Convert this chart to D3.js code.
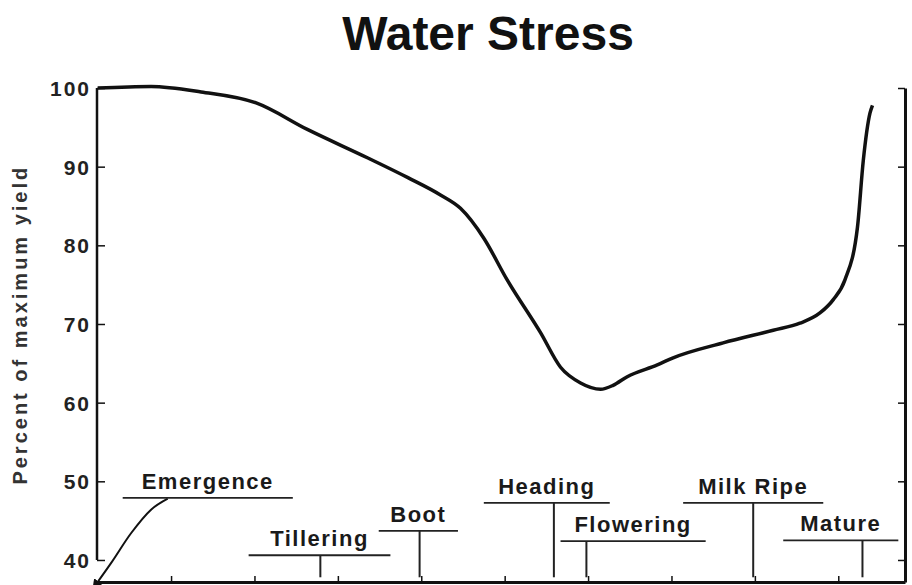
<!DOCTYPE html>
<html>
<head>
<meta charset="utf-8">
<script src="https://cdn.jsdelivr.net/npm/d3@7"></script>
<style>
    body { margin: 0; background: #fff; }
    text { font-family: "Liberation Sans", Arial, sans-serif; }
</style>
</head>
<body>
<div id="graph-container"></div>
<script>
const WIDTH = 912,
    HEIGHT = 585;

// yield curve
const curveX = [0.12, 0.76, 1.36, 2.02, 2.64, 3.36, 3.84, 4.23, 4.47, 4.75, 5.03, 5.43, 5.67, 5.91, 6.15, 6.30, 6.47, 6.83, 7.02, 7.62, 8.22, 8.54, 8.78, 8.94, 9.08, 9.23, 9.30, 9.38, 9.41];
const curveY = [100, 100.2, 99.5, 98.1, 94.7, 91.1, 88.6, 86.4, 84.7, 80.9, 75.6, 68.9, 64.5, 62.5, 61.7, 62.2, 63.3, 64.8, 65.7, 67.6, 69.2, 70.1, 71.4, 73.1, 75.6, 82.3, 90.8, 96.8, 97.8];

// emergence arrow
const emergenceX = [0.12, 0.28, 0.52, 0.76, 0.96];
const emergenceY = [37.2, 39.6, 43.4, 46.4, 47.8];

// growth stages
const stages = ["Emergence", "Tillering", "Boot", "Heading", "Flowering", "Milk Ripe", "Mature"];
const stageStart = [0.42, 1.93, 3.49, 4.75, 5.67, 7.14, 8.34];
const stageEnd = [2.46, 3.63, 4.44, 6.26, 7.41, 8.82, 9.72];
const stageMark = [null, 2.79, 3.98, 5.59, 5.98, 7.98, 9.29];
const stageLevel = [47.9, 40.6, 43.7, 47.25, 42.4, 47.25, 42.5];

const yTicks = [40, 50, 60, 70, 80, 90, 100];
const xTicks = [1, 2, 3, 4, 5, 6, 7, 8, 9];

const svg = d3.select("#graph-container")
    .append("svg")
    .attr("width", WIDTH)
    .attr("height", HEIGHT);

const x = d3.scaleLinear()
    .domain([0.1, 9.8])
    .range([96, 905]);

const y = d3.scaleLinear()
    .domain([37.2, 100])
    .range([582, 88]);

const ink = "#111";

svg.append("text")
    .attr("x", 488)
    .attr("y", 50)
    .attr("text-anchor", "middle")
    .attr("font-size", 48)
    .attr("font-weight", "bold")
    .attr("fill", ink)
    .text("Water Stress");

svg.append("text")
    .attr("transform", `translate(27, ${(y(100) + y(50)) / 2 + 40}) rotate(-90)`)
    .attr("text-anchor", "middle")
    .attr("font-size", 20)
    .attr("font-weight", "bold")
    .attr("letter-spacing", 3)
    .attr("fill", "#333")
    .text("Percent of maximum yield");

// left axis, 40..100 only
const leftAxis = svg.append("g")
    .attr("transform", `translate(${x(0.1) + 1}, 0)`)
    .call(d3.axisLeft(y).tickValues(yTicks).tickSize(-8).tickPadding(6));

leftAxis.select(".domain").remove();
leftAxis.selectAll("line").attr("stroke", ink).attr("stroke-width", 1.5);
leftAxis.selectAll("text")
    .attr("font-size", 21)
    .attr("font-weight", "bold")
    .attr("letter-spacing", 2)
    .attr("fill", "#222")
    .attr("dy", "0.36em");

leftAxis.append("line")
    .attr("y1", y(40))
    .attr("y2", y(100))
    .attr("stroke", ink)
    .attr("stroke-width", 2.5);

const rightAxis = svg.append("g")
    .attr("transform", `translate(${x(9.8)}, 0)`)
    .call(d3.axisRight(y).tickValues(yTicks).tickSize(-7).tickSizeOuter(0).tickFormat(""));

rightAxis.select(".domain").attr("stroke", ink).attr("stroke-width", 3);
rightAxis.selectAll("line").attr("stroke", ink).attr("stroke-width", 1.5);

const bottomAxis = svg.append("g")
    .attr("transform", `translate(0, ${y(37.2)})`)
    .call(d3.axisBottom(x).tickValues(xTicks).tickSize(-6).tickSizeOuter(0).tickFormat(""));

bottomAxis.select(".domain").attr("stroke", ink).attr("stroke-width", 3);
bottomAxis.selectAll("line").attr("stroke", ink).attr("stroke-width", 1.5);

// main curve
const line = d3.line()
    .curve(d3.curveMonotoneX)
    .x((d, i) => x(curveX[i]))
    .y((d) => y(d));

svg.append("path")
    .attr("d", line(curveY))
    .attr("fill", "none")
    .attr("stroke", ink)
    .attr("stroke-width", 3.5)
    .attr("stroke-linejoin", "round");

// arrow for emergence
svg.append("defs")
    .append("marker")
    .attr("id", "arrow")
    .attr("viewBox", "0 0 10 10")
    .attr("refX", 1)
    .attr("refY", 5)
    .attr("markerWidth", 5)
    .attr("markerHeight", 5)
    .attr("orient", "auto-start-reverse")
    .append("path")
    .attr("d", "M0,0 L10,5 L0,10 z")
    .attr("fill", ink);

const emLine = d3.line()
    .curve(d3.curveMonotoneX)
    .x((d, i) => x(emergenceX[i]))
    .y((d) => y(d));

svg.append("path")
    .attr("d", emLine(emergenceY))
    .attr("fill", "none")
    .attr("stroke", ink)
    .attr("stroke-width", 2)
    .attr("marker-start", "url(#arrow)");

// stage brackets
const stage = svg.append("g")
    .selectAll("g")
    .data(stages)
    .join("g");

stage.append("line")
    .attr("x1", (d, i) => x(stageStart[i]))
    .attr("x2", (d, i) => x(stageEnd[i]))
    .attr("y1", (d, i) => y(stageLevel[i]))
    .attr("y2", (d, i) => y(stageLevel[i]))
    .attr("stroke", "#222")
    .attr("stroke-width", 1.8);

stage.filter((d, i) => stageMark[i] !== null)
    .append("line")
    .attr("x1", (d) => x(stageMark[stages.indexOf(d)]))
    .attr("x2", (d) => x(stageMark[stages.indexOf(d)]))
    .attr("y1", (d) => y(stageLevel[stages.indexOf(d)]))
    .attr("y2", y(37.8))
    .attr("stroke", "#222")
    .attr("stroke-width", 2);

stage.append("text")
    .attr("x", (d, i) => (x(stageStart[i]) + x(stageEnd[i])) / 2)
    .attr("y", (d, i) => y(stageLevel[i]) - 9)
    .attr("text-anchor", "middle")
    .attr("font-size", 22)
    .attr("font-weight", "bold")
    .attr("letter-spacing", 1.5)
    .attr("fill", "#1a1a1a")
    .text((d) => d);
</script>
</body>
</html>
